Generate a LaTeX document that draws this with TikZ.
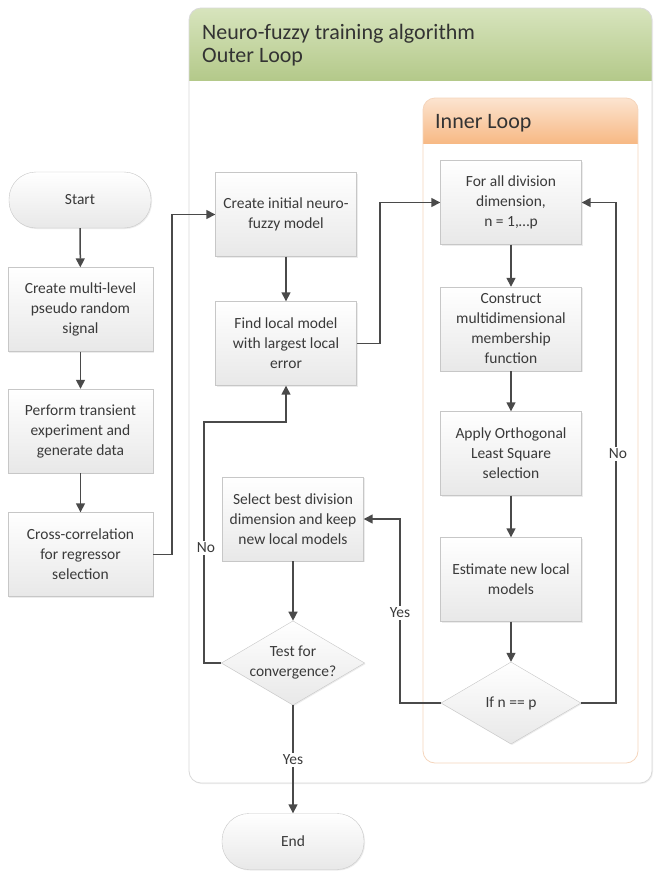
\documentclass[tikz,border=0pt]{standalone}
\usepackage{fontspec}
\setmainfont{Carlito}
\usetikzlibrary{shapes.geometric,arrows.meta,shadows}

\definecolor{txt}{HTML}{3A3A3A}
\definecolor{wire}{HTML}{4A4A4A}
\definecolor{greenA}{HTML}{D7E4BD}
\definecolor{greenB}{HTML}{B4C98A}
\definecolor{orangeA}{HTML}{FCE4D0}
\definecolor{orangeB}{HTML}{F7B985}
\definecolor{frameO}{HTML}{D9D9D9}
\definecolor{frameI}{HTML}{F5D5BC}

\tikzset{
  base/.style={draw=black!22, top color=white, bottom color=black!9, text=txt,
    align=center, font=\fontsize{15.5}{20}\selectfont, inner sep=2pt,
    drop shadow={shadow xshift=1pt, shadow yshift=-1pt, opacity=0.15}},
  proc/.style={base, rectangle, minimum width=141pt, minimum height=84pt},
  term/.style={base, rectangle, rounded corners=27pt, minimum width=142pt, minimum height=56pt},
  decision/.style={base, diamond, aspect=1.7, minimum width=140pt, minimum height=82pt, inner sep=0pt},
  flow/.style={draw=wire, line width=1.5pt, -{Triangle[length=9pt,width=9pt]}},
  lbl/.style={fill=white, text=txt, font=\fontsize{15.5}{17}\selectfont, inner sep=1.5pt},
  title/.style={text=black!80, font=\fontsize{22}{23.5}\selectfont, anchor=north west, align=left, inner sep=0pt}
}

\begin{document}
\begin{tikzpicture}[x=1pt, y=-1pt]
\useasboundingbox (0,0) rectangle (654,873);
\fill[white] (0,0) rectangle (654,873);

% outer loop container
\fill[white, drop shadow={shadow xshift=1pt, shadow yshift=-1pt, opacity=0.12}, rounded corners=12pt] (189,8) rectangle (652,783);
\begin{scope}
  \clip[rounded corners=12pt] (189,8) rectangle (652,783);
  \shade[top color=greenA, bottom color=greenB] (189,8) rectangle (652,80);
\end{scope}
\draw[frameO, line width=0.8pt, rounded corners=12pt] (189,8) rectangle (652,783);
\node[title] (outerT) at (202,24) {Neuro-fuzzy training algorithm\\Outer Loop};

% inner loop container
\fill[white, rounded corners=12pt] (423,98) rectangle (638,763);
\begin{scope}
  \clip[rounded corners=12pt] (423,98) rectangle (638,763);
  \shade[top color=orangeA, bottom color=orangeB] (423,98) rectangle (638,143);
\end{scope}
\draw[frameI, line width=0.8pt, rounded corners=12pt] (423,98) rectangle (638,763);
\node[title] (innerT) at (435,114) {Inner Loop};

% left column
\node[term] (start) at (80,200) {Start};
\node[proc, minimum width=145pt] (sig) at (80.5,309.5) {Create multi-level\\pseudo random\\signal};
\node[proc, minimum width=145pt] (exp) at (80.5,431) {Perform transient\\experiment and\\generate data};
\node[proc, minimum width=145pt] (xcor) at (80.5,554.5) {Cross-correlation\\for regressor\\selection};

% middle column
\node[proc] (init) at (286,214.5) {Create initial neuro-\\fuzzy model};
\node[proc] (find) at (286,343.5) {Find local model\\with largest local\\error};
\node[proc] (sel) at (293,519) {Select best division\\dimension and keep\\new local models};
\node[decision] (conv) at (293,663) {Test for\\convergence?};
\node[term] (end) at (293,841.5) {End};

% inner column
\node[proc] (forall) at (511,202.5) {For all division\\dimension,\\n = 1,\ldots p};
\node[proc] (mship) at (511,329) {Construct\\multidimensional\\membership\\function};
\node[proc] (ols) at (511,453.5) {Apply Orthogonal\\Least Square\\selection};
\node[proc] (est) at (511,579.5) {Estimate new local\\models};
\node[decision] (ifn) at (511,703) {If n == p};

% turning points of the elbow connectors
\coordinate (c1) at (172,554.5);
\coordinate (c2) at (172,214.5);
\coordinate (c3) at (380,343.5);
\coordinate (c4) at (380,202.5);
\coordinate (c5) at (616,703);
\coordinate (c6) at (616,202.5);
\coordinate (c7) at (400,703);
\coordinate (c8) at (400,519);
\coordinate (c9) at (204,663);
\coordinate (c10) at (204,422);
\coordinate (c11) at (286,422);

% connectors
\draw[flow] (start) -- (sig);
\draw[flow] (sig) -- (exp);
\draw[flow] (exp) -- (xcor);
\draw[flow] (xcor.east) -- (c1) -- (c2) -- (init.west);
\draw[flow] (init) -- (find);
\draw[flow] (find.east) -- (c3) -- (c4) -- (forall.west);
\draw[flow] (forall) -- (mship);
\draw[flow] (mship) -- (ols);
\draw[flow] (ols) -- (est);
\draw[flow] (est) -- (ifn);
\draw[flow] (ifn.east) -- (c5) -- (c6) -- (forall.east);
\draw[flow] (ifn.west) -- (c7) -- (c8) -- (sel.east);
\draw[flow] (sel) -- (conv);
\draw[flow] (conv.west) -- (c9) -- (c10) -- (c11) -- (find.south);
\draw[flow] (conv.south) -- (end.north);

% branch labels
\node[lbl] (noIn) at (618,454) {No};
\node[lbl] (yesIn) at (400,613) {Yes};
\node[lbl] (noOut) at (206,548) {No};
\node[lbl] (yesOut) at (293,760) {Yes};
\end{tikzpicture}
\end{document}
